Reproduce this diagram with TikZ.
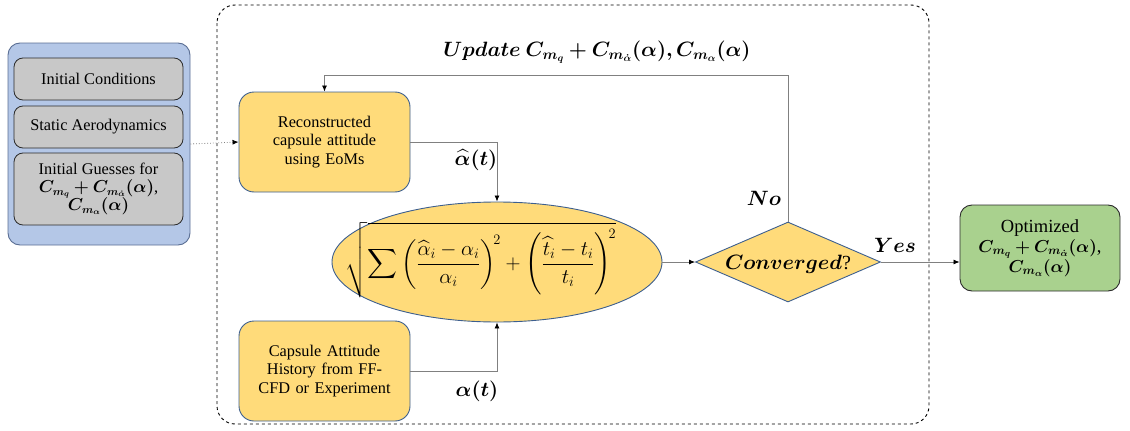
\documentclass[tikz,border=0pt]{standalone}
\usepackage{amsmath,bm}
\usepackage{fontspec}
\setmainfont{Liberation Serif}
\newfontfamily\tnr{Liberation Serif}
\usetikzlibrary{shapes.geometric,arrows.meta}
\definecolor{ybox}{HTML}{FFDB7A}
\definecolor{yedge}{HTML}{3D5F8F}
\definecolor{bfill}{HTML}{B4C7E7}
\definecolor{bedge}{HTML}{5A6E94}
\definecolor{gfill}{HTML}{C8C8C8}
\definecolor{gedge}{HTML}{2B2B2B}
\definecolor{grfill}{HTML}{A9D18E}
\definecolor{lin}{HTML}{808080}
\tikzset{
  txt/.style={font=\tnr\fontsize{16.3}{18.5}\selectfont},
  mlab/.style={font=\tnr\fontsize{20}{24}\selectfont, inner sep=0},
  ybx/.style={draw=yedge, fill=ybox, rounded corners=15pt, line width=0.9pt, minimum width=171pt, minimum height=100pt, align=center, txt, text width=160pt},
  gbx/.style={draw=gedge, fill=gfill, rounded corners=9pt, line width=0.8pt, minimum width=169pt, align=center, txt},
  conn/.style={draw=lin, line width=0.8pt, -{Latex[length=6pt,width=5pt,black]}},
}
\begin{document}
\begin{tikzpicture}[x=1pt,y=-1pt]
\useasboundingbox (0,0) rectangle (1130,431);
% dashed frame
\draw[dashed, line width=0.9pt, rounded corners=18pt] (217,5) rectangle (929,424);
% left blue group
\node[draw=bedge, fill=bfill, rounded corners=12pt, line width=0.9pt, minimum width=182pt, minimum height=202pt] (grp) at (99,144) {};
\node[gbx, minimum height=42pt] (ic) at (98.5,79) {Initial Conditions};
\node[gbx, minimum height=42pt] (sa) at (98.5,127) {Static Aerodynamics};
\node[gbx, minimum height=72pt, font=\tnr\fontsize{16.3}{19}\selectfont] (ig) at (98.5,189) {Initial Guesses for\\[-1pt]
  $\bm{C_{m_q}+C_{m_{\dot\alpha}}(\alpha)}$,\\[-1pt] $\bm{C_{m_\alpha}(\alpha)}$};
% yellow boxes
\node[ybx] (rec) at (324.5,142) {Reconstructed\\capsule attitude\\using EoMs};
\node[ybx] (cap) at (324.5,371) {Capsule Attitude\\History from FF-\\CFD or Experiment};
% ellipse
\node[ellipse, draw=yedge, fill=ybox, line width=0.9pt, minimum width=330pt, minimum height=120pt, inner sep=0] (ell) at (497,262) {};
\node[font=\fontsize{22}{26}\selectfont, inner sep=0] (frm) at (481,260)
  {$\displaystyle\sqrt{\sum\left(\frac{\widehat{\alpha}_i-\alpha_i}{\alpha_i}\right)^{\!2}+\left(\frac{\widehat{t}_i-t_i}{t_i}\right)^{\!2}}$};
% diamond
\node[diamond, draw=yedge, fill=ybox, line width=0.9pt, minimum width=185pt, minimum height=80pt, inner sep=0, aspect=2.3] (dia) at (788,262) {};
\node[mlab] (conv) at (788,264) {$\bm{Converged}$?};
% green box
\node[draw=gedge, fill=grfill, rounded corners=12pt, line width=0.9pt, minimum width=160pt, minimum height=86pt, align=center, font=\tnr\fontsize{18.5}{21}\selectfont] (opt) at (1040,248)
  {Optimized\\[-1pt] $\bm{C_{m_q}+C_{m_{\dot\alpha}}(\alpha)}$,\\[-1pt] $\bm{C_{m_\alpha}(\alpha)}$};
% connectors
\draw[conn, dotted] (grp.east) -- (rec.west);
\draw[conn] (rec.east) -| (ell.north);
\draw[conn] (cap.east) -| (ell.south);
\draw[conn] (ell.east) -- (dia.west);
\coordinate (up) at (788,75);
\draw[conn] (dia.north) -- (up) -| (rec.north);
\draw[conn] (dia.east) -- (dia.east -| opt.west);
% labels
\node[mlab] (lu) at (597,52) {$\bm{Update\ C_{m_q}+C_{m_{\dot\alpha}}(\alpha), C_{m_\alpha}(\alpha)}$};
\node[mlab] (lah) at (476,160) {$\bm{\widehat{\alpha}(t)}$};
\node[mlab] (la) at (477,391) {$\bm{\alpha(t)}$};
\node[mlab] (lno) at (764,198) {$\bm{No}$};
\node[mlab] (lyes) at (895,245) {$\bm{Yes}$};
\end{tikzpicture}
\end{document}
